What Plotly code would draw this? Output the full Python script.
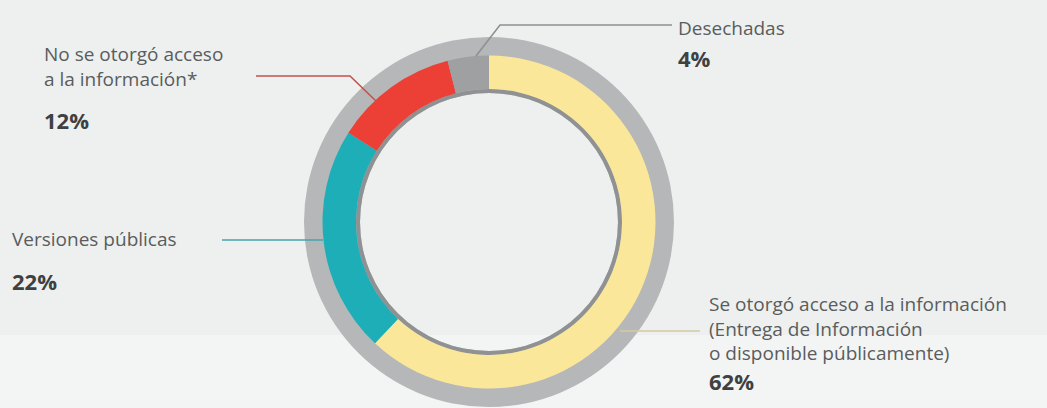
import plotly.graph_objects as go

# ---- data ----
categories = [
    "Se otorgó acceso a la información<br>(Entrega de Información<br>o disponible públicamente)",
    "Versiones públicas",
    "No se otorgó acceso<br>a la información*",
    "Desechadas",
]
values = [62, 22, 12, 4]
colors = ["#FBE79A", "#1DAEB7", "#EC4036", "#9EA0A1"]

W, H = 1047, 408
CX, CY = 489, 222


def px_x(x):
    return x / W


def px_y(y):
    return 1 - y / H


def dom(r):
    return dict(x=[px_x(CX - r), px_x(CX + r)], y=[px_y(CY + r), px_y(CY - r)])


fig = go.Figure()

# outer gray ring
fig.add_trace(go.Pie(values=[sum(values)], labels=["total"], marker=dict(colors=["#B5B7B8"]),
                     hole=129 / 185, domain=dom(185), textinfo="none", sort=False,
                     showlegend=False, hoverinfo="skip"))
# thin darker inner line
fig.add_trace(go.Pie(values=[sum(values)], labels=["total"], marker=dict(colors=["#8F9192"]),
                     hole=129 / 133, domain=dom(133), textinfo="none", sort=False,
                     showlegend=False, hoverinfo="skip"))
# coloured segments
fig.add_trace(go.Pie(values=values, labels=categories, marker=dict(colors=colors, line=dict(width=0)),
                     hole=133 / 166.5, domain=dom(166.5), textinfo="none", sort=False,
                     direction="clockwise", rotation=0, showlegend=False))

# label positions (pixel) : (x, label block centre y, pct y)
label_pos = {
    0: (707, 328, 381),
    1: (10, 239, 281),
    2: (42, 67, 120),
    3: (676, 28, 58),
}
leaders = {
    0: ([620, 700], [331, 331], "#D3CBA3"),
    1: ([222, 323], [240, 240], "#42A6AD"),
    2: ([256, 350, 376], [76, 76, 101], "#C4524D"),
    3: ([672, 500, 476], [25, 25, 56], "#8E9091"),
}

annotations = []
shapes = [dict(type="rect", xref="paper", yref="paper", x0=0, x1=1, y0=0, y1=px_y(335),
               fillcolor="#F3F4F4", line=dict(width=0), layer="below")]
for i, (cat, v) in enumerate(zip(categories, values)):
    x, yc, yp = label_pos[i]
    annotations.append(dict(x=px_x(x), y=px_y(yc), xref="paper", yref="paper",
                            text=cat, showarrow=False, xanchor="left", yanchor="middle",
                            align="left",
                            font=dict(family="Open Sans", size=19, color="#5A5C5D")))
    annotations.append(dict(x=px_x(x), y=px_y(yp), xref="paper", yref="paper",
                            text=f"<b>{v}%</b>", showarrow=False, xanchor="left", yanchor="middle",
                            font=dict(family="Open Sans", size=22, color="#3E4041")))
    xs, ys, c = leaders[i]
    path = "M " + " L ".join(f"{px_x(a)},{px_y(b)}" for a, b in zip(xs, ys))
    shapes.append(dict(type="path", xref="paper", yref="paper", path=path,
                       line=dict(color=c, width=1.6)))

fig.update_layout(width=W, height=H, margin=dict(l=0, r=0, t=0, b=0),
                  paper_bgcolor="#EDF0EF", plot_bgcolor="#EDF0EF",
                  annotations=annotations, shapes=shapes)

fig.write_html("out.html", config={"displayModeBar": False},
               post_script="document.body.style.margin='0';document.body.style.overflow='hidden';")
